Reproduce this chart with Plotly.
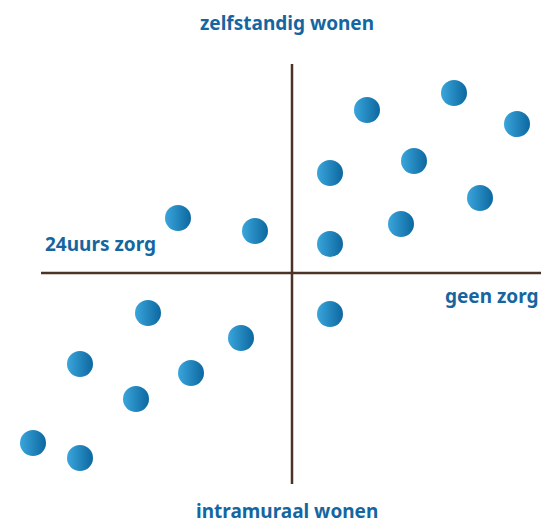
import plotly.graph_objects as go

# Point positions (x: left/right of vertical axis, y: above/below horizontal axis)
x_vals = [75, 162, 225, 122, 38, 188, 109, 38, -114, -37,
          38, -144, -51, -212, -101, -156, -259, -212]
y_vals = [163, 180, 149, 112, 100, 75, 49, 29, 55, 42,
          -41, -40, -65, -91, -100, -126, -170, -185]

axis_labels = ["zelfstandig wonen", "intramuraal wonen", "24uurs zorg", "geen zorg"]

X0, X1 = -292, 249
Y0, Y1 = -251, 273

fig = go.Figure()

line_color = "#4b3326"
fig.add_trace(go.Scatter(x=[-251, X1], y=[0, 0], mode="lines",
                         line=dict(color=line_color, width=2.5), hoverinfo="skip"))
fig.add_trace(go.Scatter(x=[0, 0], y=[209, -211], mode="lines",
                         line=dict(color=line_color, width=2.5), hoverinfo="skip"))

fig.add_trace(go.Scatter(
    x=x_vals, y=y_vals, mode="markers",
    marker=dict(size=26, color="#3aa6dc",
                gradient=dict(type="horizontal", color="#0c679f"),
                line=dict(width=0)),
))

txt_color = "#1566a0"
font = dict(family="Noto Sans", size=19, color=txt_color)
fig.add_annotation(x=-5, y=250, text="<b>" + axis_labels[0] + "</b>", showarrow=False, font=font)
fig.add_annotation(x=-5, y=-238, text="<b>" + axis_labels[1] + "</b>", showarrow=False, font=font)
fig.add_annotation(x=-192, y=29, text="<b>" + axis_labels[2] + "</b>", showarrow=False, font=font)
fig.add_annotation(x=X1, y=-23, xanchor="right", text="<b>" + axis_labels[3] + "</b>",
                   showarrow=False, font=font)

fig.update_layout(
    width=541, height=524,
    margin=dict(l=0, r=0, t=0, b=0),
    paper_bgcolor="white", plot_bgcolor="white",
    showlegend=False,
    xaxis=dict(range=[X0, X1], visible=False, fixedrange=True),
    yaxis=dict(range=[Y0, Y1], visible=False, fixedrange=True),
)

fig.write_html("out.html", config={"displayModeBar": False},
               post_script="document.body.style.margin='0';document.body.style.overflow='hidden';")
